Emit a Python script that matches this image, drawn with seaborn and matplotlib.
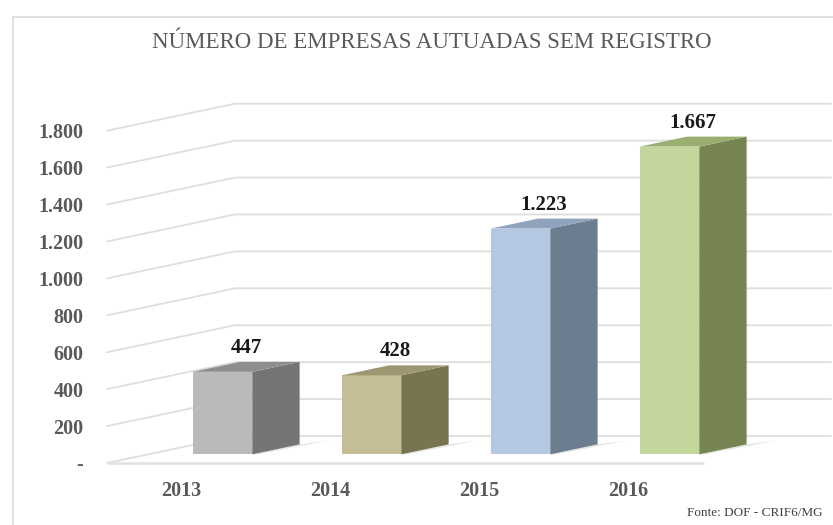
import matplotlib
matplotlib.use("Agg")
import matplotlib.pyplot as plt
import seaborn as sns
from matplotlib.patches import Polygon, Rectangle
from matplotlib.transforms import IdentityTransform, ScaledTranslation
from matplotlib.lines import Line2D
import numpy as np

# ── data ──
years = ["2013", "2014", "2015", "2016"]
empresas = [447, 428, 1223, 1667]
value_labels = ["447", "428", "1.223", "1.667"]
y_ticks = [0, 200, 400, 600, 800, 1000, 1200, 1400, 1600, 1800]
y_tick_labels = ["-", "200", "400", "600", "800", "1.000", "1.200", "1.400", "1.600", "1.800"]

front_colors = ["#bababa", "#c4bd96", "#b4c8e2", "#c3d69b"]
side_colors = ["#747474", "#78744f", "#6c7d90", "#768552"]
top_colors = ["#8e8e8e", "#9d9772", "#8fa3bd", "#9aae70"]

title = "NÚMERO DE EMPRESAS AUTUADAS SEM REGISTRO"
fonte = "Fonte: DOF - CRIF6/MG"

DPI = 100
W, H = 833, 525
depth = np.array([128.0, 27.0])     # oblique depth vector, px
f_front, f_back = 0.32, 0.69        # bar depth position (fraction of depth)

sns.set_theme(style="white")
plt.rcParams["font.family"] = ["Liberation Serif", "DejaVu Serif"]

fig = plt.figure(figsize=(W / DPI, H / DPI), dpi=DPI)
fig.patch.set_facecolor("white")
ax = fig.add_axes([107 / W, 62 / H, 596 / W, 332.3 / H])
ax.set_facecolor("none")

sns.barplot(x=years, y=empresas, hue=years, palette=front_colors, width=0.40,
            legend=False, saturation=1, ax=ax, zorder=3)
ax.set_xlim(-0.5, len(years) - 0.5)
ax.set_ylim(0, 1800)
for s in ax.spines.values():
    s.set_visible(False)

ident = IdentityTransform()
off_f = depth * f_front
off_b = depth * f_back


def disp(x, y):
    return ax.transData.transform((x, y))


# back wall / side wall gridlines
grid_c = "#dedede"
for v in y_ticks:
    p0 = disp(-0.5, v)
    p1 = p0 + depth
    p2 = disp(len(years) - 0.5, v) + depth
    ln = Line2D([p0[0], p1[0], p2[0]], [p0[1], p1[1], p2[1]], transform=ident,
                color=grid_c, lw=1.3, zorder=1, clip_on=False)
    ax.add_line(ln)
# floor front edge
a, b = disp(-0.5, 0), disp(len(years) - 0.5, 0)
ax.add_line(Line2D([a[0], b[0]], [a[1], b[1]], transform=ident, color="#e2e2e2",
                   lw=1.8, zorder=1, clip_on=False))

# turn the seaborn bars into blocks
for i, patch in enumerate(ax.patches):
    x0, w, h = patch.get_x(), patch.get_width(), patch.get_height()
    patch.set_transform(ax.transData + ScaledTranslation(off_f[0] / DPI, off_f[1] / DPI,
                                                         fig.dpi_scale_trans))
    patch.set_edgecolor("none")
    patch.set_clip_on(False)
    bl, br = disp(x0, 0), disp(x0 + w, 0)
    tl, tr = disp(x0, h), disp(x0 + w, h)
    # floor shadow
    shadow = Polygon([br + off_f, br + off_b, br + off_b + np.array([30, 4]),
                      br + off_f + np.array([6, 0])],
                     closed=True, transform=ident, facecolor="#000000", alpha=0.10,
                     edgecolor="none", zorder=2, clip_on=False)
    ax.add_patch(shadow)
    side = Polygon([br + off_f, tr + off_f, tr + off_b, br + off_b], closed=True,
                   transform=ident, facecolor=side_colors[i], edgecolor="none",
                   zorder=3, clip_on=False)
    top = Polygon([tl + off_f, tr + off_f, tr + off_b, tl + off_b], closed=True,
                  transform=ident, facecolor=top_colors[i], edgecolor="none",
                  zorder=3, clip_on=False)
    ax.add_patch(side)
    ax.add_patch(top)
    cx = (tl[0] + off_f[0] + tr[0] + off_b[0]) / 2
    cy = tl[1] + off_f[1] + 24
    ax.text(cx, cy, value_labels[i], transform=ident, ha="center", va="center",
            fontsize=15, fontweight="bold", color="#1a1a1a", zorder=5)

# axes labels
ax.set_xticks(range(len(years)))
ax.set_xticklabels(years)
ax.set_yticks(y_ticks)
ax.set_yticklabels(y_tick_labels)
ax.tick_params(axis="x", length=0, pad=13, labelsize=14.5, labelcolor="#595959")
ax.tick_params(axis="y", length=0, pad=17, labelsize=14.5, labelcolor="#595959")
for lab in ax.get_xticklabels() + ax.get_yticklabels():
    lab.set_fontweight("bold")
ax.set_xlabel("")
ax.set_ylabel("")
ax.grid(False)

# chart frame
fig.add_artist(Rectangle((13 / W, -0.05), 1.2, 1 - 17 / H + 0.05, transform=fig.transFigure,
                         facecolor="none", edgecolor="#d9d9d9", lw=1.2))

fig.text(432 / W, 1 - 43 / H, title, ha="center", va="center", fontsize=16.5,
         color="#595959")
fig.text(823 / W, 1 - 513 / H, fonte, ha="right", va="center", fontsize=9.5,
         color="#404040")

fig.savefig("out.png", dpi=DPI)
